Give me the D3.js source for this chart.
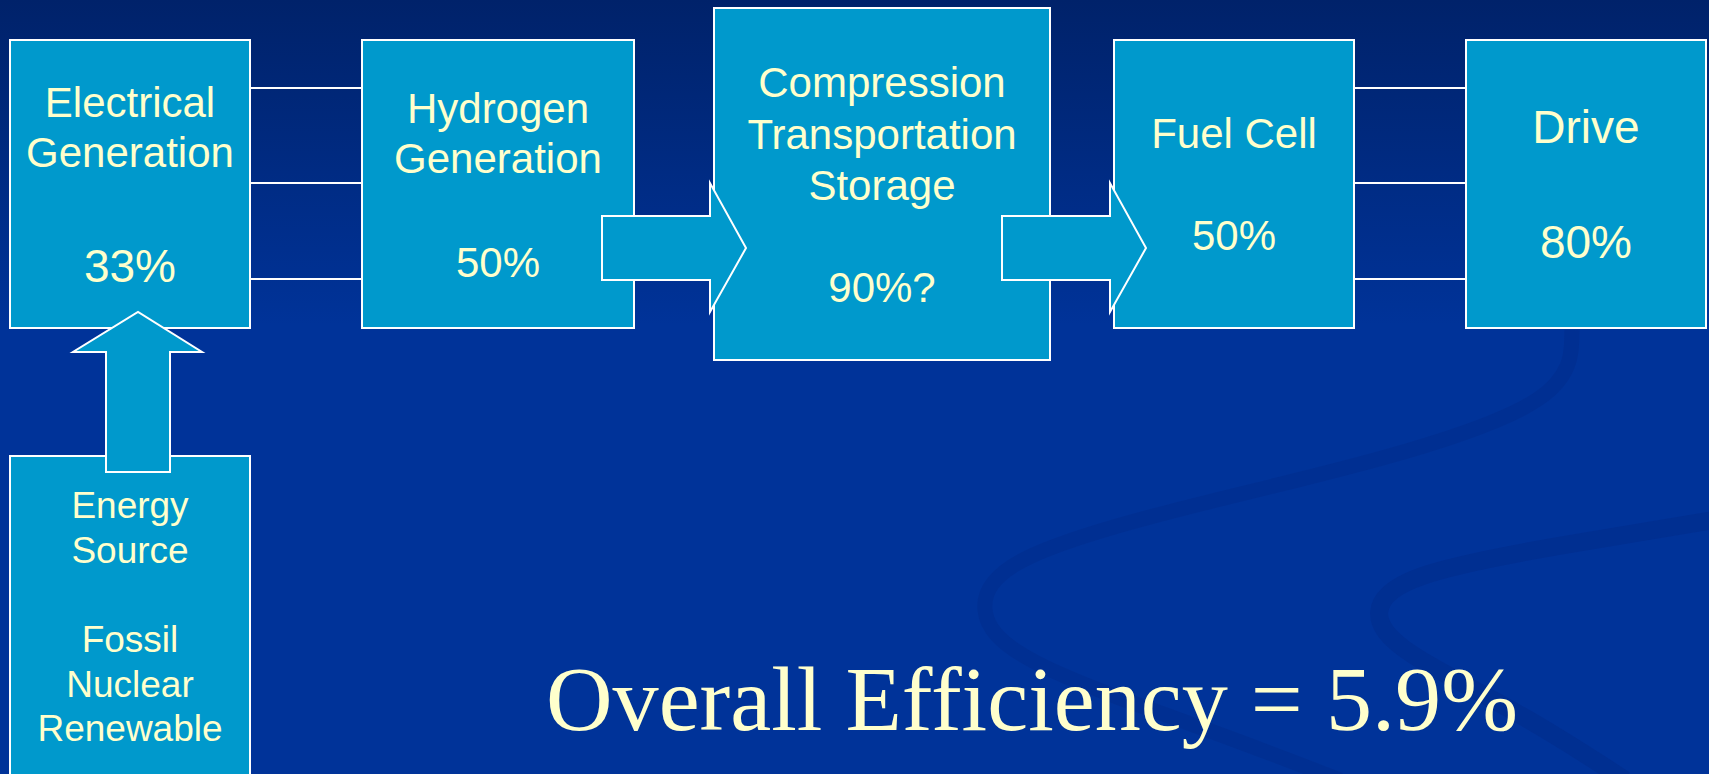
<!DOCTYPE html>
<html>
<head>
<meta charset="utf-8">
<title>Hydrogen pathway efficiency</title>
<script src="https://cdn.jsdelivr.net/npm/d3@7"></script>
<style>
  body { margin: 0; background: #003399; }
  svg { display: block; }
</style>
</head>
<body>
<script>
// chart values
var stages = ["Electrical Generation", "Hydrogen Generation", "Compression Transportation Storage", "Fuel Cell", "Drive"];
var stageLines = [["Electrical", "Generation"], ["Hydrogen", "Generation"], ["Compression", "Transportation", "Storage"], ["Fuel Cell"], ["Drive"]];
var efficiency = ["33%", "50%", "90%?", "50%", "80%"];
var sourceLines = ["Energy", "Source"];
var sourceKinds = ["Fossil", "Nuclear", "Renewable"];
var overall = "5.9%";

var w = 1709, h = 774;
var textColor = "#ffffcc";
var boxColor = "#0099cc";

var svg = d3.select("body").append("svg")
  .attr("width", w)
  .attr("height", h);

// background
var defs = svg.append("defs");
var grad = defs.append("linearGradient")
  .attr("id", "bg").attr("x1", 0).attr("y1", 0).attr("x2", 0).attr("y2", 1);
grad.append("stop").attr("offset", "0").attr("stop-color", "#00226a");
grad.append("stop").attr("offset", "0.42").attr("stop-color", "#003399");
grad.append("stop").attr("offset", "1").attr("stop-color", "#003399");
svg.append("rect").attr("width", w).attr("height", h).attr("fill", "url(#bg)");

// faint swooshes in the background
var swoosh = d3.line().curve(d3.curveBasis);
svg.append("path")
  .attr("d", swoosh([[1572, 330], [1570, 400], [1380, 462], [1160, 512], [1000, 560], [975, 610], [1010, 660], [1210, 730], [1340, 780]]))
  .attr("fill", "none").attr("stroke", "#002a88").attr("stroke-opacity", 0.4).attr("stroke-width", 15);
svg.append("path")
  .attr("d", swoosh([[1715, 520], [1560, 545], [1400, 575], [1370, 612], [1395, 650], [1520, 712], [1625, 780]]))
  .attr("fill", "none").attr("stroke", "#002a88").attr("stroke-opacity", 0.45).attr("stroke-width", 18);

// layout of the stage boxes
var boxX = d3.scaleOrdinal().domain(stages).range([[10, 250], [362, 634], [714, 1050], [1114, 1354], [1466, 1706]]);
var boxY = d3.scaleOrdinal().domain(stages).range([[40, 328], [40, 328], [8, 360], [40, 328], [40, 328]]);
var titleBase = d3.scaleOrdinal().domain(stages).range([117, 123, 97, 148, 143]);
var valueBase = d3.scaleOrdinal().domain(stages).range([282, 277, 302, 250, 258]);
var fontSize = d3.scaleOrdinal().domain(stages).range([42, 42, 42, 42, 46]);
var valueSize = d3.scaleOrdinal().domain(stages).range([46, 42, 42, 42, 46]);

// connector lines between boxes 1-2 and 4-5
var linkY = [88, 183, 279];
[[0, 1], [3, 4]].forEach(function(p) {
  svg.selectAll(null).data(linkY).enter().append("line")
    .attr("x1", boxX(stages[p[0]])[1]).attr("x2", boxX(stages[p[1]])[0])
    .attr("y1", function(d) { return d; }).attr("y2", function(d) { return d; })
    .attr("stroke", "#fff").attr("stroke-width", 2);
});

svg.selectAll("rect.stage").data(stages).enter().append("rect")
  .attr("class", "stage")
  .attr("x", function(d) { return boxX(d)[0]; })
  .attr("y", function(d) { return boxY(d)[0]; })
  .attr("width", function(d) { return boxX(d)[1] - boxX(d)[0]; })
  .attr("height", function(d) { return boxY(d)[1] - boxY(d)[0]; })
  .attr("fill", boxColor).attr("stroke", "#fff").attr("stroke-width", 2);

// energy source box
svg.append("rect")
  .attr("x", 10).attr("y", 456).attr("width", 240).attr("height", 340)
  .attr("fill", boxColor).attr("stroke", "#fff").attr("stroke-width", 2);

// block arrows
function rightArrow(x0, xb, xt, yb0, yb1, yh0, yh1) {
  var ym = (yb0 + yb1) / 2;
  return d3.line()([[x0, yb0], [xb, yb0], [xb, yh0], [xt, ym], [xb, yh1], [xb, yb1], [x0, yb1]]) + "Z";
}
svg.append("path").attr("d", rightArrow(602, 710, 746, 216, 280, 183, 312))
  .attr("fill", boxColor).attr("stroke", "#fff").attr("stroke-width", 2);
svg.append("path").attr("d", rightArrow(1002, 1110, 1146, 216, 280, 183, 312))
  .attr("fill", boxColor).attr("stroke", "#fff").attr("stroke-width", 2);
svg.append("path")
  .attr("d", d3.line()([[106, 472], [106, 352], [73, 352], [138, 312], [202, 352], [170, 352], [170, 472]]) + "Z")
  .attr("fill", boxColor).attr("stroke", "#fff").attr("stroke-width", 2);

// stage labels
var labels = svg.selectAll("g.lab").data(stages).enter().append("g").attr("class", "lab")
  .attr("font-family", "'Liberation Sans', Arial, sans-serif")
  .attr("fill", textColor)
  .attr("text-anchor", "middle");

labels.each(function(d, i) {
  var g = d3.select(this);
  var cx = (boxX(d)[0] + boxX(d)[1]) / 2;
  var lh = stageLines[i].length === 3 ? 51.5 : 50;
  g.selectAll("text.t").data(stageLines[i]).enter().append("text")
    .attr("class", "t")
    .attr("x", cx)
    .attr("y", function(s, j) { return titleBase(d) + j * lh; })
    .attr("font-size", fontSize(d))
    .text(function(s) { return s; });
  g.append("text")
    .attr("x", cx).attr("y", valueBase(d))
    .attr("font-size", valueSize(d))
    .text(efficiency[i]);
});

var src = svg.append("g")
  .attr("font-family", "'Liberation Sans', Arial, sans-serif")
  .attr("fill", textColor)
  .attr("text-anchor", "middle")
  .attr("font-size", 37);
src.selectAll("text.a").data(sourceLines).enter().append("text")
  .attr("class", "a").attr("x", 130)
  .attr("y", function(d, i) { return 518 + i * 45; })
  .text(function(d) { return d; });
src.selectAll("text.b").data(sourceKinds).enter().append("text")
  .attr("class", "b").attr("x", 130)
  .attr("y", function(d, i) { return 652 + i * 44.5; })
  .text(function(d) { return d; });

// overall result
svg.append("text")
  .attr("x", 546).attr("y", 730)
  .attr("font-family", "'Liberation Serif', 'Times New Roman', serif")
  .attr("font-size", 92)
  .attr("fill", textColor)
  .attr("textLength", 972).attr("lengthAdjust", "spacingAndGlyphs")
  .text("Overall Efficiency = " + overall);
</script>
</body>
</html>
